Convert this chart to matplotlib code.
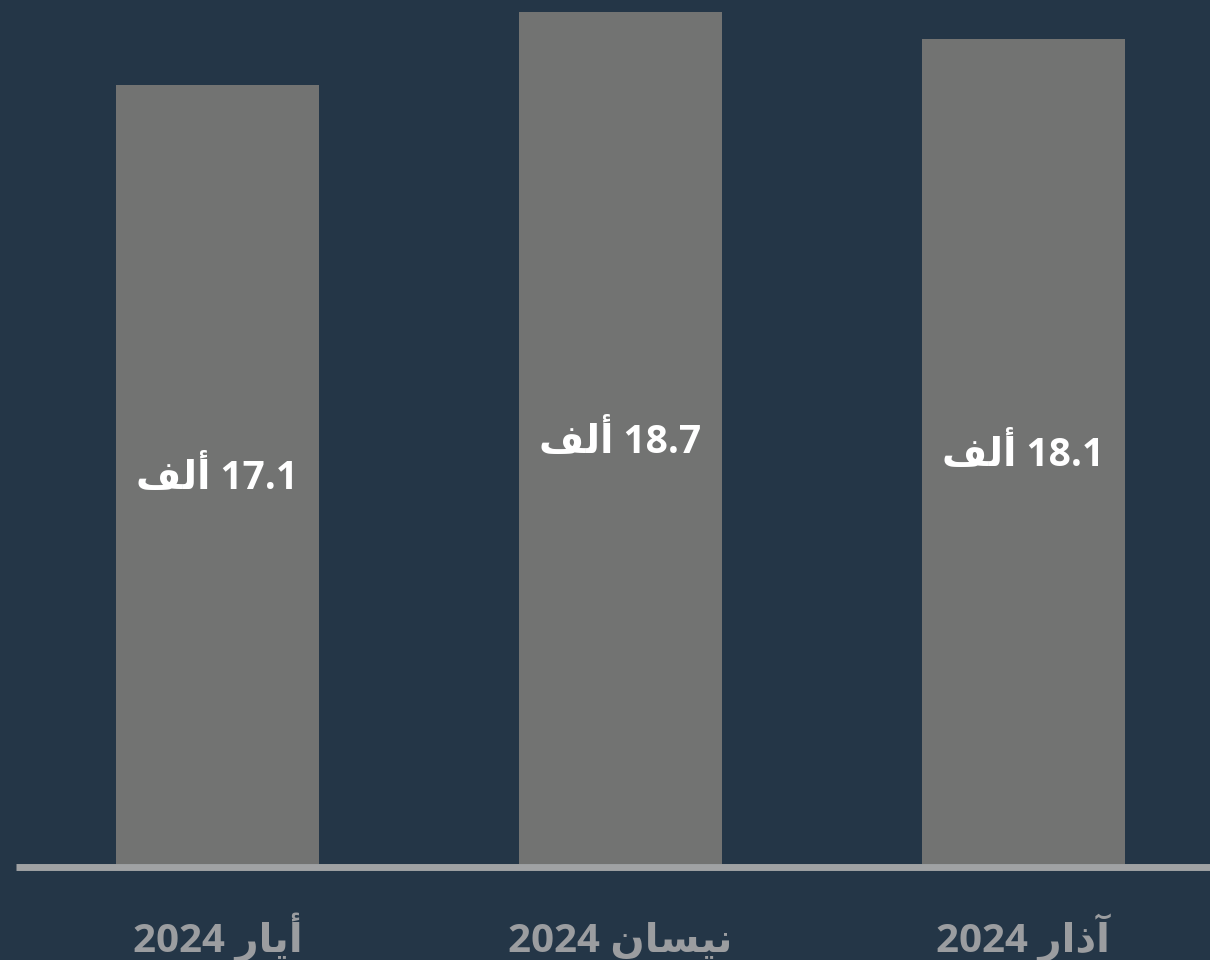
import matplotlib
matplotlib.use("Agg")
import matplotlib.pyplot as plt
from matplotlib import transforms

# ---- data ----
months = ["أيار 2024", "نيسان 2024", "آذار 2024"]
values = [17.1, 18.7, 18.1]
value_labels = ["17.1 ألف", "18.7 ألف", "18.1 ألف"]

# ---- minimal Arabic shaping (presentation forms) + RTL reordering ----
# char: (isolated, final, initial, medial) ; None for right-joining letters
FORMS = {
    "\u0622": ("\uFE81", "\uFE82", None, None),
    "\u0623": ("\uFE83", "\uFE84", None, None),
    "\u0627": ("\uFE8D", "\uFE8E", None, None),
    "\u0630": ("\uFEAB", "\uFEAC", None, None),
    "\u0631": ("\uFEAD", "\uFEAE", None, None),
    "\u0633": ("\uFEB1", "\uFEB2", "\uFEB3", "\uFEB4"),
    "\u0641": ("\uFED1", "\uFED2", "\uFED3", "\uFED4"),
    "\u0644": ("\uFEDD", "\uFEDE", "\uFEDF", "\uFEE0"),
    "\u0646": ("\uFEE5", "\uFEE6", "\uFEE7", "\uFEE8"),
    "\u064A": ("\uFEF1", "\uFEF2", "\uFEF3", "\uFEF4"),
}


def _joins_left(c):
    return c in FORMS and FORMS[c][2] is not None


def shape_word(w):
    out = []
    for i, c in enumerate(w):
        if c not in FORMS:
            out.append(c)
            continue
        prev_j = i > 0 and _joins_left(w[i - 1])
        next_j = i < len(w) - 1 and w[i + 1] in FORMS and _joins_left(c)
        iso, fin, ini, med = FORMS[c]
        if prev_j and next_j:
            out.append(med)
        elif prev_j:
            out.append(fin)
        elif next_j:
            out.append(ini)
        else:
            out.append(iso)
    return "".join(reversed(out))


def rtl(text):
    toks = []
    for t in text.split(" "):
        if any(ch in FORMS for ch in t):
            toks.append(shape_word(t))
        else:
            toks.append(t)
    return " ".join(reversed(toks))


# ---- style ----
BG = "#243647"
BAR = "#727372"
AXIS = "#a0a2a4"
MONTH = "#9b9da0"
FONT = ["Open Sans", "DejaVu Sans"]

fig = plt.figure(figsize=(12.1, 9.6), dpi=100, facecolor=BG)
ax = fig.add_axes([16 / 1210, 0.1, 1 - 16 / 1210, 0.9])
ax.set_facecolor(BG)

x = list(range(len(values)))
bars = ax.bar(x, values, width=0.504, color=BAR, zorder=2)

ax.set_xlim(-0.5, 2.4628)
ax.set_ylim(0, 18.96)

for s in ["top", "left", "right"]:
    ax.spines[s].set_visible(False)
sp = ax.spines["bottom"]
sp.set_color(AXIS)
sp.set_linewidth(5.0)
sp.set_capstyle("butt")
sp.set_position(("outward", 2.5))
ax.set_xticks([])
ax.set_yticks([])

off = transforms.offset_copy(ax.transData, fig=fig, y=-10.5, units="points")
for xi, v, lab in zip(x, values, value_labels):
    ax.text(xi, v / 2, rtl(lab), transform=off, ha="center", va="baseline",
            color="white", fontsize=28, fontweight="bold", family=FONT, zorder=3)

xt = ax.get_xaxis_transform()
for xi, m in zip(x, months):
    ax.text(xi, -0.1019, rtl(m), transform=xt, ha="center", va="baseline",
            color=MONTH, fontsize=29, fontweight="bold", family=FONT, clip_on=False)

fig.savefig("out.png", dpi=100, facecolor=BG)
